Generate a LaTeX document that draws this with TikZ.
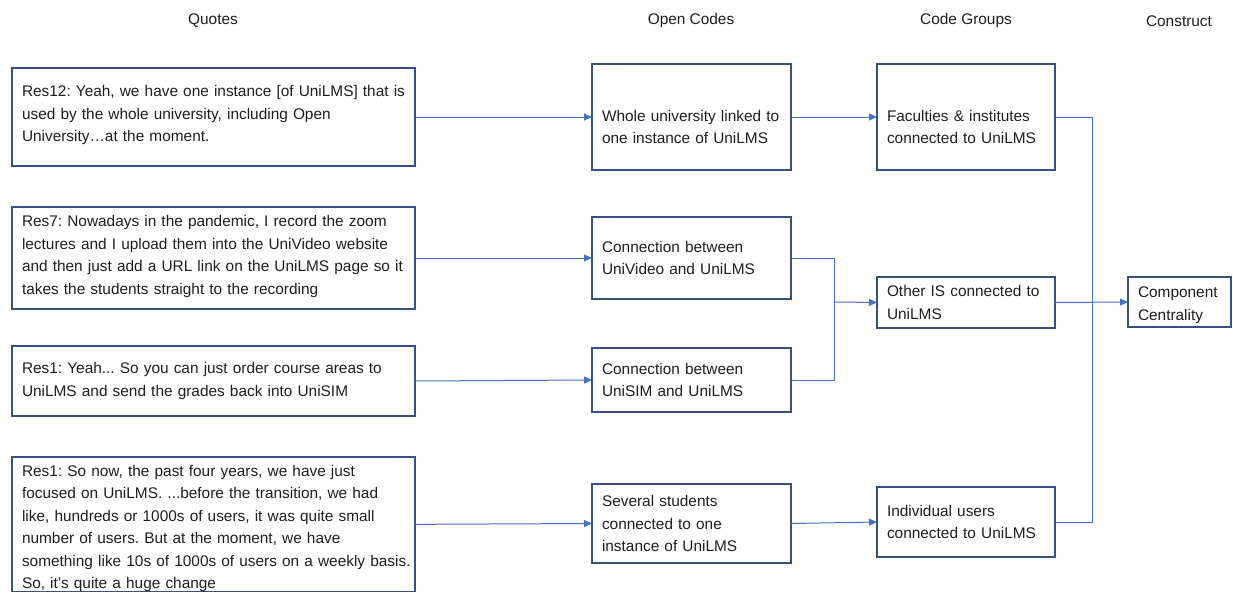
\documentclass[tikz,border=0pt]{standalone}
\usepackage{fontspec}
\setmainfont{Liberation Sans}
\usetikzlibrary{arrows.meta}
\definecolor{boxc}{HTML}{36517F}
\definecolor{linec}{HTML}{4472C4}
\definecolor{txt}{HTML}{1E1E1E}
\tikzset{
  tbox/.style={draw=boxc, line width=1.4pt, anchor=north west, align=left,
    inner xsep=10pt, inner ysep=0pt, outer sep=0pt,
    font=\fontsize{15.4}{22.5}\selectfont\frenchspacing, text=txt},
  hdr/.style={font=\fontsize{15.4}{18}\selectfont, text=txt, inner sep=0pt},
  conn/.style={draw=linec, line width=1pt, -{Triangle[length=8pt,width=7pt]}},
  wire/.style={draw=linec, line width=1pt}
}
\begin{document}
\frenchspacing
\begin{tikzpicture}[x=1pt,y=-1pt]
\useasboundingbox (0,0) rectangle (1233,594);
% headers
\node[hdr] (hq) at (213,21) {Quotes};
\node[hdr] (ho) at (691,21) {Open Codes};
\node[hdr] (hg) at (966,21) {Code Groups};
\node[hdr] (hc) at (1179,21) {Construct};
% quotes
\node[tbox, minimum width=403pt, minimum height=98pt, text width=383pt, text depth=52pt] (q1) at (12,68)
 {\mbox{Res12: Yeah, we have one instance [of UniLMS] that is}\\
  \mbox{used by the whole university, including Open}\\
  \mbox{University…at the moment.}};
\node[tbox, minimum width=403pt, minimum height=102pt, text width=383pt, text depth=74pt] (q2) at (12,207)
 {\mbox{Res7: Nowadays in the pandemic, I record the zoom}\\
  \mbox{lectures and I upload them into the UniVideo website}\\
  \mbox{and then just add a URL link on the UniLMS page so it}\\
  \mbox{takes the students straight to the recording}};
\node[tbox, minimum width=403pt, minimum height=70pt, text width=383pt] (q3) at (12,346)
 {\mbox{Res1: Yeah... So you can just order course areas to}\\
  \mbox{UniLMS and send the grades back into UniSIM}};
\node[tbox, minimum width=403pt, minimum height=134pt, text width=383pt, text height=19pt] (q4) at (12,457)
 {\mbox{Res1: So now, the past four years, we have just}\\
  \mbox{focused on UniLMS. ...before the transition, we had}\\
  \mbox{like, hundreds or 1000s of users, it was quite small}\\
  \mbox{number of users. But at the moment, we have}\\
  \mbox{something like 10s of 1000s of users on a weekly basis.}\\
  \mbox{So, it's quite a huge change}};
% open codes
\node[tbox, minimum width=199pt, minimum height=106pt, text width=179pt, text height=31pt] (o1) at (592,64)
 {Whole university linked to\\one instance of UniLMS};
\node[tbox, minimum width=199pt, minimum height=82pt, text width=179pt] (o2) at (592,217)
 {Connection between\\UniVideo and UniLMS};
\node[tbox, minimum width=199pt, minimum height=64pt, text width=179pt] (o3) at (592,348)
 {Connection between\\UniSIM and UniLMS};
\node[tbox, minimum width=199pt, minimum height=79pt, text width=179pt] (o4) at (592,484)
 {Several students\\connected to one\\instance of UniLMS};
% code groups
\node[tbox, minimum width=178pt, minimum height=106pt, text width=158pt, text height=31pt] (g1) at (877,64)
 {Faculties \& institutes\\connected to UniLMS};
\node[tbox, minimum width=178pt, minimum height=51pt, text width=158pt] (g2) at (877,277)
 {Other IS connected to\\UniLMS};
\node[tbox, minimum width=178pt, minimum height=70pt, text width=158pt] (g3) at (877,487)
 {Individual users\\connected to UniLMS};
% construct
\node[tbox, minimum width=103pt, minimum height=50pt, text width=83pt, text height=17pt] (c) at (1128,277)
 {Component\\Centrality};
% connectors
\draw[conn] (q1.east) -- (o1.west);
\draw[conn] (q2.east) -- (o2.west);
\draw[conn] (q3.east) -- (o3.west);
\draw[conn] (q4.east) -- (o4.west);
\draw[conn] (o1.east) -- (g1.west);
\draw[conn] (o4.east) -- (g3.west);
\coordinate (j) at (834,302);
\draw[wire] (o2.east) -| (j);
\draw[wire] (o3.east) -| (j);
\draw[conn] (j) -- (g2.west);
\coordinate (k) at (1092,302);
\draw[wire] (g1.east) -| (k);
\draw[wire] (g3.east) -| (k);
\draw[conn] (g2.east) -- (c.west);
\end{tikzpicture}
\end{document}
